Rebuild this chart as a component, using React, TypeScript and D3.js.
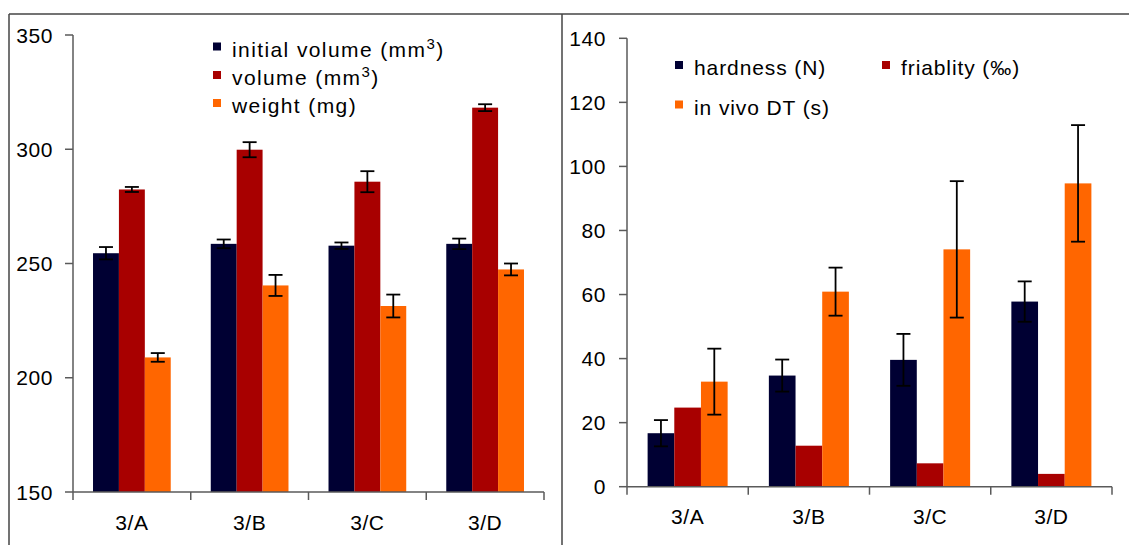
import React from "react";
import * as d3 from "d3";

const categories = ["3/A", "3/B", "3/C", "3/D"];

// Left panel
const initialVolume = [254.5, 258.6, 257.8, 258.6];
const initialVolumeErr = [2.7, 1.9, 1.4, 2.3];
const volume = [282.4, 299.8, 285.8, 318.2];
const volumeErr = [1.1, 3.3, 4.6, 1.5];
const weight = [208.9, 240.4, 231.4, 247.4];
const weightErr = [1.9, 4.6, 5.0, 2.6];
const leftTicks = [150, 200, 250, 300, 350];

// Right panel
const hardness = [16.7, 34.7, 39.6, 57.8];
const hardnessErr = [4.1, 5.0, 8.1, 6.3];
const friability = [24.7, 12.8, 7.3, 4.0];
const dt = [32.8, 60.9, 74.1, 94.7];
const dtErr = [10.3, 7.5, 21.3, 18.2];
const rightTicks = [0, 20, 40, 60, 80, 100, 120, 140];

const NAVY = "#000033";
const RED = "#a80000";
const ORANGE = "#ff6600";
const AXIS = "#5a5a5a";
const FONT = "'Liberation Sans', Arial, sans-serif";

type Series = { name: string; values: number[]; err: number[] | null; color: string };

const leftSeries: Series[] = [
  { name: "initial", values: initialVolume, err: initialVolumeErr, color: NAVY },
  { name: "volume", values: volume, err: volumeErr, color: RED },
  { name: "weight", values: weight, err: weightErr, color: ORANGE },
];
const rightSeries: Series[] = [
  { name: "hardness", values: hardness, err: hardnessErr, color: NAVY },
  { name: "friability", values: friability, err: null, color: RED },
  { name: "dt", values: dt, err: dtErr, color: ORANGE },
];

function Panel(props: {
  series: Series[];
  x0: number;
  x1: number;
  yTop: number;
  yBottom: number;
  domain: [number, number];
  ticks: number[];
  labelX: number;
  catBaseline: number;
}) {
  const { series, x0, x1, yTop, yBottom, domain, ticks, labelX, catBaseline } = props;
  const x = d3.scaleBand<string>().domain(categories).range([x0, x1]).padding(0);
  const bw = x.bandwidth();
  const gap = bw * 0.17;
  const xs = d3
    .scaleBand<string>()
    .domain(series.map((s) => s.name))
    .range([gap, bw - gap])
    .padding(0);
  const y = d3.scaleLinear().domain(domain).range([yBottom, yTop]);
  const base = y(domain[0]);
  const cap = 7;
  return (
    <g>
      {series.map((s) =>
        s.values.map((v, i) => {
          const bx = (x(categories[i]) as number) + (xs(s.name) as number);
          return (
            <rect
              key={s.name + i}
              x={bx}
              y={y(v)}
              width={xs.bandwidth()}
              height={base - y(v)}
              fill={s.color}
            />
          );
        })
      )}
      {series.map((s) =>
        s.err
          ? s.values.map((v, i) => {
              const cx = (x(categories[i]) as number) + (xs(s.name) as number) + xs.bandwidth() / 2;
              const e = (s.err as number[])[i];
              const yt = y(v + e);
              const yb = y(v - e);
              return (
                <g key={"e" + s.name + i} stroke="#000" strokeWidth={1.8}>
                  <line x1={cx} x2={cx} y1={yt} y2={yb} />
                  <line x1={cx - cap} x2={cx + cap} y1={yt} y2={yt} />
                  <line x1={cx - cap} x2={cx + cap} y1={yb} y2={yb} />
                </g>
              );
            })
          : null
      )}
      {/* y axis */}
      <line x1={x0} x2={x0} y1={y(domain[1])} y2={base} stroke={AXIS} strokeWidth={1.5} />
      {ticks.map((t) => (
        <g key={"t" + t}>
          <line x1={x0 - 8} x2={x0} y1={y(t)} y2={y(t)} stroke={AXIS} strokeWidth={1.5} />
          <text
            x={labelX}
            y={y(t)}
            dy="0.36em"
            textAnchor="end"
            fontFamily={FONT}
            fontSize={21}
            letterSpacing={0.6}
            fill="#000"
          >
            {t}
          </text>
        </g>
      ))}
      {/* x axis */}
      <line x1={x0} x2={x1} y1={base} y2={base} stroke={AXIS} strokeWidth={1.5} />
      {[...categories.map((c) => x(c) as number), x1].map((tx, i) => (
        <line key={"xt" + i} x1={tx} x2={tx} y1={base} y2={base + 8} stroke={AXIS} strokeWidth={1.5} />
      ))}
      {categories.map((c) => (
        <text
          key={"c" + c}
          x={(x(c) as number) + bw / 2}
          y={catBaseline}
          textAnchor="middle"
          fontFamily={FONT}
          fontSize={21}
          letterSpacing={0.6}
          fill="#000"
        >
          {c}
        </text>
      ))}
    </g>
  );
}

function LegendItem(props: {
  x: number;
  baseline: number;
  color: string;
  spacing: number;
  children: React.ReactNode;
}) {
  const { x, baseline, color, spacing, children } = props;
  return (
    <g>
      <rect x={x} y={baseline - 14} width={8} height={8} fill={color} />
      <text x={x + 19} y={baseline} fontFamily={FONT} fontSize={21} letterSpacing={spacing} fill="#000">
        {children}
      </text>
    </g>
  );
}

export default function App() {
  return (
    <div style={{ position: "absolute", left: 0, top: 0 }}>
      <svg width={1129} height={545} style={{ display: "block", background: "#fff" }}>
        <rect x={0} y={0} width={1129} height={545} fill="#fff" />
        {/* frame */}
        <line x1={9} x2={1129} y1={14} y2={14} stroke="#444" strokeWidth={1.5} />
        <line x1={9} x2={9} y1={14} y2={545} stroke="#444" strokeWidth={1.5} />
        <line x1={562} x2={562} y1={14} y2={545} stroke="#444" strokeWidth={1.5} />

        <Panel
          series={leftSeries}
          x0={73}
          x1={544}
          yTop={35}
          yBottom={492}
          domain={[150, 350]}
          ticks={leftTicks}
          labelX={53}
          catBaseline={530}
        />
        <Panel
          series={rightSeries}
          x0={627}
          x1={1112}
          yTop={38.3}
          yBottom={486.7}
          domain={[0, 140]}
          ticks={rightTicks}
          labelX={606}
          catBaseline={523.5}
        />

        <LegendItem x={213} baseline={56.5} color={NAVY} spacing={1.4}>
          initial volume (mm
          <tspan fontSize={15} dy={-8}>3</tspan>
          <tspan dy={8}>)</tspan>
        </LegendItem>
        <LegendItem x={213} baseline={85} color={RED} spacing={1.4}>
          volume (mm
          <tspan fontSize={15} dy={-8}>3</tspan>
          <tspan dy={8}>)</tspan>
        </LegendItem>
        <LegendItem x={213} baseline={113} color={ORANGE} spacing={1.4}>
          weight (mg)
        </LegendItem>

        <LegendItem x={675} baseline={75} color={NAVY} spacing={0.9}>
          hardness (N)
        </LegendItem>
        <LegendItem x={882} baseline={75} color={RED} spacing={0.9}>
          friablity (‰)
        </LegendItem>
        <LegendItem x={675} baseline={114.5} color={ORANGE} spacing={0.9}>
          in vivo DT (s)
        </LegendItem>
      </svg>
    </div>
  );
}
